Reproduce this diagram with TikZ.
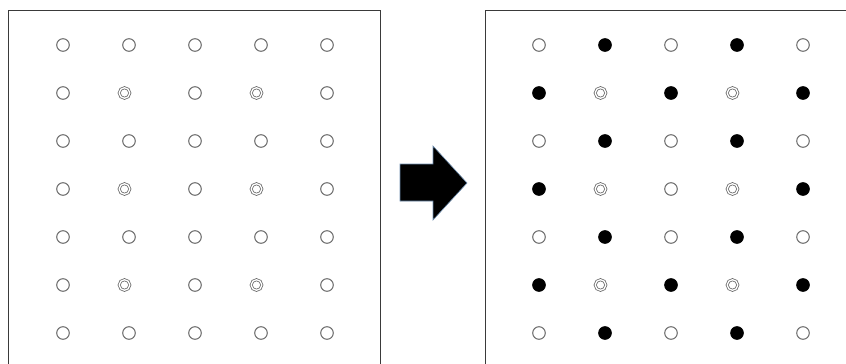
\documentclass[tikz,border=0pt]{standalone}
\usetikzlibrary{positioning}
\definecolor{rim}{HTML}{6A6A6A}
\definecolor{frm}{HTML}{3A3A3A}
\definecolor{edg}{HTML}{6F8FB0}

\begin{document}
\begin{tikzpicture}[x=1pt,y=-1pt,
 site/.style={circle,minimum size=12.6pt,inner sep=0pt,line width=1pt},
 hole/.style={site,draw=rim,fill=white},
 dot/.style={site,draw=black,fill=black},
 dbl/.style={circle,minimum size=10.6pt,inner sep=0pt,draw=rim,line width=0.8pt,
   double=white,double distance=1.3pt,xshift=-4.5pt}]
 \useasboundingbox (0,0) rectangle (846,364);
 % frames
 \draw[frm,line width=1pt] (8,365) -- (8,10) -- (380,10) -- (380,365);
 \draw[frm,line width=1pt] (485,365) -- (485,10) -- (847,10);
 % before
 \foreach \row [count=\r] in {{hole,hole,hole,hole,hole},{hole,dbl,hole,dbl,hole},
   {hole,hole,hole,hole,hole},{hole,dbl,hole,dbl,hole},{hole,hole,hole,hole,hole},
   {hole,dbl,hole,dbl,hole},{hole,hole,hole,hole,hole}}
   \foreach \kind [count=\c] in \row
     \node[\kind] (L-\r-\c) at ({63+66*(\c-1)},{45+48*(\r-1)}) {};
 % arrow
 \fill[black,draw=edg,line width=0.6pt] (400,164) -- (433,164) -- (433,146)
   -- (467,183) -- (433,220) -- (433,201) -- (400,201) -- cycle;
 % after
 \foreach \row [count=\r] in {{hole,dot,hole,dot,hole},{dot,dbl,dot,dbl,dot},
   {hole,dot,hole,dot,hole},{dot,dbl,hole,dbl,dot},{hole,dot,hole,dot,hole},
   {dot,dbl,dot,dbl,dot},{hole,dot,hole,dot,hole}}
   \foreach \kind [count=\c] in \row
     \node[\kind] (R-\r-\c) at ({539+66*(\c-1)},{45+48*(\r-1)}) {};
\end{tikzpicture}
\end{document}
